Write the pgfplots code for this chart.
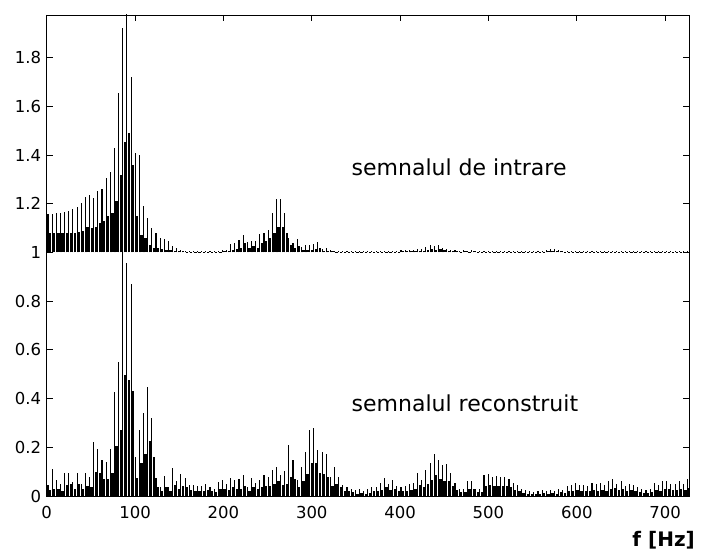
\documentclass[border=0pt]{standalone}
\usepackage{pgfplots}
\pgfplotsset{compat=1.18}
\usepackage{pgfplotstable}
\usepackage{fontspec}
\setmainfont{DejaVu Sans}

\pgfplotstableread{
x ut ul lt ll
1.5 1.157 1.080 0.045 0.025
6.2 1.156 1.080 0.110 0.030
10.9 1.163 1.080 0.065 0.030
15.6 1.163 1.080 0.050 0.020
20.3 1.165 1.080 0.096 0.045
25.0 1.170 1.078 0.096 0.050
29.7 1.180 1.080 0.057 0.030
34.4 1.185 1.085 0.096 0.050
39.1 1.205 1.090 0.050 0.030
43.8 1.226 1.105 0.096 0.040
48.5 1.235 1.100 0.080 0.035
53.2 1.225 1.105 0.220 0.100
57.9 1.253 1.120 0.195 0.096
62.6 1.260 1.130 0.147 0.069
67.3 1.305 1.150 0.140 0.069
72.0 1.330 1.160 0.194 0.096
76.7 1.430 1.210 0.426 0.205
81.4 1.655 1.320 0.552 0.270
86.1 1.920 1.455 1.050 0.497
90.8 2.050 1.490 0.955 0.477
95.5 1.720 1.360 0.870 0.432
100.2 1.410 1.150 0.160 0.075
104.9 1.400 1.070 0.273 0.134
109.6 1.190 1.060 0.342 0.172
114.3 1.140 1.030 0.449 0.226
119.0 1.100 1.020 0.319 0.160
123.7 1.080 1.020 0.075 0.035
128.4 1.060 1.015 0.038 0.020
133.1 1.055 1.010 0.082 0.035
137.8 1.045 1.010 0.035 0.020
142.5 1.025 1.005 0.113 0.045
147.2 1.020 1.005 0.063 0.030
151.9 1.010 1.005 0.090 0.040
156.6 1.008 1.003 0.072 0.035
161.3 1.007 1.003 0.045 0.025
166.0 1.006 1.003 0.045 0.020
170.7 1.008 1.003 0.040 0.020
175.4 1.006 1.003 0.040 0.020
180.1 1.007 1.003 0.050 0.025
184.8 1.006 1.003 0.035 0.020
189.5 1.008 1.003 0.030 0.015
194.2 1.008 1.003 0.059 0.030
198.9 1.010 1.004 0.065 0.030
203.6 1.012 1.005 0.050 0.025
208.3 1.033 1.012 0.075 0.035
213.0 1.040 1.015 0.066 0.030
217.7 1.050 1.020 0.068 0.030
222.4 1.071 1.040 0.086 0.040
227.1 1.044 1.020 0.038 0.020
231.8 1.048 1.025 0.073 0.035
236.5 1.045 1.020 0.055 0.030
241.2 1.075 1.040 0.066 0.035
245.9 1.080 1.045 0.086 0.040
250.6 1.092 1.060 0.080 0.040
255.3 1.164 1.078 0.107 0.050
260.0 1.218 1.105 0.118 0.060
264.7 1.218 1.105 0.086 0.045
269.4 1.163 1.078 0.104 0.050
274.1 1.060 1.030 0.210 0.080
278.8 1.037 1.018 0.148 0.070
283.5 1.057 1.025 0.066 0.035
288.2 1.023 1.010 0.120 0.060
292.9 1.030 1.012 0.182 0.090
297.6 1.030 1.012 0.271 0.137
302.3 1.034 1.015 0.278 0.137
307.0 1.044 1.018 0.190 0.093
311.7 1.016 1.008 0.182 0.090
316.4 1.020 1.008 0.172 0.080
321.1 1.010 1.005 0.080 0.040
325.8 1.007 1.003 0.118 0.050
330.5 1.006 1.003 0.080 0.035
335.2 1.008 1.003 0.045 0.020
339.9 1.006 1.003 0.038 0.020
344.6 1.007 1.003 0.030 0.015
349.3 1.006 1.003 0.025 0.010
354.0 1.007 1.003 0.030 0.012
358.7 1.006 1.003 0.020 0.010
363.4 1.008 1.003 0.028 0.012
368.1 1.007 1.003 0.035 0.020
372.8 1.006 1.003 0.038 0.020
377.5 1.008 1.003 0.052 0.025
382.2 1.007 1.003 0.073 0.035
386.9 1.008 1.003 0.050 0.025
391.6 1.008 1.003 0.066 0.030
396.3 1.008 1.003 0.040 0.020
401.0 1.010 1.004 0.038 0.020
405.7 1.010 1.004 0.041 0.020
410.4 1.012 1.005 0.050 0.025
415.1 1.012 1.005 0.055 0.030
419.8 1.016 1.008 0.093 0.045
424.5 1.016 1.008 0.066 0.035
429.2 1.022 1.010 0.107 0.050
433.9 1.030 1.015 0.134 0.065
438.6 1.025 1.012 0.172 0.085
443.3 1.030 1.015 0.148 0.070
448.0 1.020 1.010 0.127 0.060
452.7 1.016 1.008 0.131 0.060
457.4 1.012 1.005 0.093 0.040
462.1 1.010 1.004 0.052 0.025
466.8 1.008 1.003 0.027 0.015
471.5 1.010 1.004 0.030 0.015
476.2 1.008 1.003 0.063 0.030
480.9 1.010 1.004 0.063 0.030
485.6 1.008 1.003 0.030 0.015
490.3 1.008 1.003 0.030 0.015
495.0 1.007 1.003 0.086 0.040
499.7 1.008 1.003 0.090 0.045
504.4 1.007 1.003 0.080 0.040
509.1 1.008 1.003 0.082 0.040
513.8 1.007 1.003 0.080 0.040
518.5 1.008 1.003 0.080 0.040
523.2 1.007 1.003 0.070 0.035
527.9 1.006 1.003 0.054 0.025
532.6 1.007 1.003 0.045 0.020
537.3 1.006 1.003 0.027 0.012
542.0 1.007 1.003 0.025 0.010
546.7 1.006 1.003 0.020 0.008
551.4 1.007 1.003 0.018 0.008
556.1 1.006 1.003 0.022 0.010
560.8 1.008 1.003 0.025 0.012
565.5 1.010 1.004 0.020 0.010
570.2 1.016 1.006 0.025 0.012
574.9 1.016 1.006 0.022 0.010
579.6 1.012 1.005 0.030 0.015
584.3 1.008 1.003 0.025 0.012
589.0 1.008 1.003 0.040 0.020
593.7 1.007 1.003 0.045 0.022
598.4 1.008 1.003 0.054 0.025
603.1 1.007 1.003 0.045 0.022
607.8 1.008 1.003 0.045 0.022
612.5 1.007 1.003 0.040 0.020
617.2 1.008 1.003 0.054 0.025
621.9 1.007 1.003 0.048 0.022
626.6 1.006 1.003 0.054 0.025
631.3 1.007 1.003 0.045 0.022
636.0 1.006 1.003 0.061 0.030
640.7 1.007 1.003 0.070 0.033
645.4 1.006 1.003 0.050 0.025
650.1 1.007 1.003 0.063 0.030
654.8 1.006 1.003 0.040 0.020
659.5 1.007 1.003 0.050 0.025
664.2 1.006 1.003 0.045 0.022
668.9 1.007 1.003 0.035 0.018
673.6 1.008 1.003 0.027 0.012
678.3 1.006 1.003 0.025 0.012
683.0 1.007 1.003 0.030 0.015
687.7 1.006 1.003 0.054 0.025
692.4 1.008 1.003 0.045 0.022
697.1 1.007 1.003 0.060 0.028
701.8 1.008 1.003 0.060 0.028
706.5 1.007 1.003 0.050 0.025
711.2 1.006 1.003 0.050 0.025
715.9 1.008 1.003 0.061 0.030
720.6 1.007 1.003 0.050 0.025
725.3 1.008 1.003 0.070 0.033
}\spec

\begin{document}
\begin{tikzpicture}[x=1pt,y=1pt]
\path[use as bounding box] (0,0) rectangle (701,553);
\begin{axis}[
  at={(46.7pt,57pt)}, anchor=south west,
  scale only axis, width=642.3pt, height=481pt,
  xmin=0, xmax=727, ymin=0, ymax=1.975,
  xtick={0,100,200,300,400,500,600,700},
  ytick={0,0.2,0.4,0.6,0.8,1,1.2,1.4,1.6,1.8},
  tick align=inside, major tick length=6pt,
  tick style={black, line width=0.8pt},
  axis line style={black, line width=0.8pt},
  tick label style={font=\fontsize{16.5}{18}\selectfont},
  /pgf/number format/assume math mode=true,
  yticklabel shift=2pt, xticklabel shift=7pt,
  clip=true,
]
\addplot[ycomb, black, line width=1.1pt, mark=none] table[x=x,y=lt]{\spec};
\addplot[ycomb, black, line width=2.3pt, mark=none, xshift=2.1pt] table[x=x,y=ll]{\spec};
\coordinate (c1) at (axis cs:0,1);
\node[anchor=base west, inner sep=0pt, font=\fontsize{22}{26}\selectfont] at (axis cs:345,1.314) {semnalul de intrare};
\node[anchor=base west, inner sep=0pt, font=\fontsize{22}{26}\selectfont] at (axis cs:345,0.346) {semnalul reconstruit};
\end{axis}
\begin{axis}[
  at={(c1)}, anchor=south west,
  scale only axis, width=642.3pt, height=237.46pt,
  xmin=0, xmax=727, ymin=1, ymax=1.975,
  hide axis, clip=true,
]
\addplot[ycomb, black, line width=1.1pt, mark=none] table[x=x,y=ut]{\spec};
\addplot[ycomb, black, line width=2.3pt, mark=none, xshift=2.1pt] table[x=x,y=ul]{\spec};
\end{axis}
\node[anchor=base east, inner sep=0pt, font=\bfseries\fontsize{20}{24}\selectfont] at (695,6) {f [Hz]};
\end{tikzpicture}
\end{document}
